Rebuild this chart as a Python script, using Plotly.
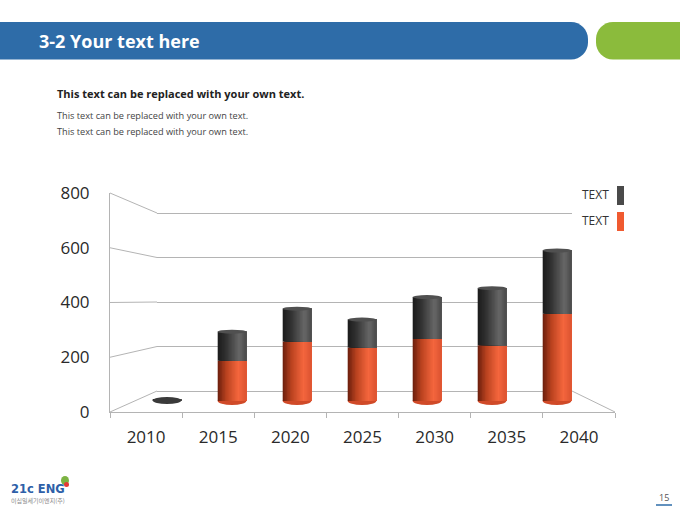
import plotly.graph_objects as go

# chart data
years = ["2010", "2015", "2020", "2025", "2030", "2035", "2040"]
series_names = ["TEXT", "TEXT"]          # dark (top) series, red (bottom) series
red_vals = [0, 163, 240, 216, 251, 225, 353]
dark_vals = [4, 117, 133, 113, 169, 231, 255]
y_ticks = [0, 200, 400, 600, 800]

W, H = 680, 510
FONT = "Open Sans"


def px(x):
    return x / W


def py(y):
    return 1 - y / H


def ydomain(ypx0, ypx800, lo, hi):
    # pixel rows of value 0 and 800 -> domain for a [lo, hi] axis range
    s = (ypx0 - ypx800) / 800.0
    return [py(ypx0 + (0 - lo) * s), py(ypx800 - (hi - 800) * s)]


def hex2rgb(h):
    h = h.lstrip("#")
    return [int(h[i:i + 2], 16) for i in (0, 2, 4)]


def shade(stops, t):
    for (t0, c0), (t1, c1) in zip(stops, stops[1:]):
        if t0 <= t <= t1:
            f = (t - t0) / (t1 - t0)
            a, b = hex2rgb(c0), hex2rgb(c1)
            return "rgb(%d,%d,%d)" % tuple(round(a[i] + (b[i] - a[i]) * f) for i in range(3))
    return stops[-1][1]


# pseudo-3d planes (pixels): front axis, back wall, plane of the cylinders
FRONT_X = (110, 615)
FRONT_Y = (412, 193)
BACK_X = (157, 572)
BACK_Y = (391, 213)
BARS_X = (134.5, 589.5)
BARS_Y = (401, 203)

RED_STOPS = [(0, "#6a1e0d"), (0.3, "#b9421f"), (0.72, "#f4663d"), (1, "#dd5432")]
DARK_STOPS = [(0, "#1b1b1b"), (0.3, "#323232"), (0.75, "#676767"), (1, "#4b4b4b")]
GRID = "#b4b4b4"

xs = list(range(len(years)))
NS = 20
BW = 0.44

fig = go.Figure()

# empty traces so the front and back subplots are always built
fig.add_trace(go.Scatter(x=[None], y=[None], xaxis="x", yaxis="y", showlegend=False, hoverinfo="skip"))
fig.add_trace(go.Scatter(x=[None], y=[None], xaxis="x2", yaxis="y2", showlegend=False, hoverinfo="skip"))

# cylinders: strips drawn left to right, each reaching the right edge, so no seams show
for vals, base, stops in [(red_vals, [0] * len(xs), RED_STOPS),
                          (dark_vals, red_vals, DARK_STOPS)]:
    for i in range(NS):
        c = shade(stops, (i + 0.5) / NS)
        fig.add_trace(go.Bar(
            x=xs, y=vals, base=base,
            width=BW * (NS - i) / NS, offset=-BW / 2 + i * BW / NS,
            marker=dict(color=c, line=dict(width=0)),
            xaxis="x3", yaxis="y3", showlegend=False, hoverinfo="skip"))

shapes = []

# slanted connectors between front axis and back wall
for v in y_ticks:
    yf = FRONT_Y[0] - v * (FRONT_Y[0] - FRONT_Y[1]) / 800
    yb = BACK_Y[0] - v * (BACK_Y[0] - BACK_Y[1]) / 800
    shapes.append(dict(type="line", xref="paper", yref="paper",
                       x0=px(FRONT_X[0]), y0=py(yf), x1=px(BACK_X[0]), y1=py(yb),
                       line=dict(color=GRID, width=1), layer="below"))
# right edge of the floor
shapes.append(dict(type="line", xref="paper", yref="paper",
                   x0=px(BACK_X[1]), y0=py(BACK_Y[0]), x1=px(FRONT_X[1]), y1=py(FRONT_Y[0]),
                   line=dict(color=GRID, width=1), layer="below"))

# cylinder bottoms and tops
for k, (r, d) in enumerate(zip(red_vals, dark_vals)):
    if r > 0:
        shapes.append(dict(type="circle", xref="x3", yref="y3",
                           x0=k - BW / 2, x1=k + BW / 2,
                           ysizemode="pixel", yanchor=0, y0=-4, y1=4,
                           fillcolor="#d04a28", line=dict(width=0), layer="below"))
        shapes.append(dict(type="circle", xref="x3", yref="y3",
                           x0=k - BW / 2, x1=k + BW / 2,
                           ysizemode="pixel", yanchor=r + d, y0=-2, y1=2,
                           fillcolor="#505050", line=dict(width=0), layer="above"))
    else:
        shapes.append(dict(type="circle", xref="x3", yref="y3",
                           x0=k - BW / 2, x1=k + BW / 2,
                           ysizemode="pixel", yanchor=d, y0=-4, y1=3,
                           fillcolor="#3a3a3a", line=dict(width=0), layer="above"))


def pill(x0, x1, y0, y1, rl, rr):
    # rounded bar as a path in paper coords (bezier corners)
    k = 0.5523
    p = []
    p.append("M%f,%f" % (px(x0 + rl), py(y0)))
    p.append("L%f,%f" % (px(x1 - rr), py(y0)))
    if rr:
        p.append("C%f,%f %f,%f %f,%f" % (px(x1 - rr + rr * k), py(y0), px(x1), py(y0 + rr - rr * k),
                                          px(x1), py(y0 + rr)))
        p.append("L%f,%f" % (px(x1), py(y1 - rr)))
        p.append("C%f,%f %f,%f %f,%f" % (px(x1), py(y1 - rr + rr * k), px(x1 - rr + rr * k), py(y1),
                                          px(x1 - rr), py(y1)))
    else:
        p.append("L%f,%f L%f,%f" % (px(x1), py(y0), px(x1), py(y1)))
    p.append("L%f,%f" % (px(x0 + rl), py(y1)))
    if rl:
        p.append("C%f,%f %f,%f %f,%f" % (px(x0 + rl - rl * k), py(y1), px(x0), py(y1 - rl + rl * k),
                                          px(x0), py(y1 - rl)))
        p.append("L%f,%f" % (px(x0), py(y0 + rl)))
        p.append("C%f,%f %f,%f %f,%f" % (px(x0), py(y0 + rl - rl * k), px(x0 + rl - rl * k), py(y0),
                                          px(x0 + rl), py(y0)))
    else:
        p.append("L%f,%f" % (px(x0), py(y0)))
    p.append("Z")
    return " ".join(p)


# header bars
shapes.append(dict(type="path", xref="paper", yref="paper", path=pill(-5, 588, 22, 59.5, 0, 17),
                   fillcolor="#2e6ca8", line=dict(width=0)))
shapes.append(dict(type="path", xref="paper", yref="paper", path=pill(596, 700, 22, 59.5, 17, 0),
                   fillcolor="#8bbb3c", line=dict(width=0)))

# legend swatches
shapes.append(dict(type="rect", xref="paper", yref="paper", x0=px(617), x1=px(624), y0=py(205), y1=py(186),
                   fillcolor="#4a4a4a", line=dict(width=0)))
shapes.append(dict(type="rect", xref="paper", yref="paper", x0=px(617), x1=px(624), y0=py(231), y1=py(212),
                   fillcolor="#f05a30", line=dict(width=0)))
# page number underline
shapes.append(dict(type="line", xref="paper", yref="paper", x0=px(656), x1=px(672), y0=py(505), y1=py(505),
                   line=dict(color="#2e6ca8", width=1.5)))
# logo leaf
shapes.append(dict(type="circle", xref="paper", yref="paper", x0=px(61), x1=px(69), y0=py(485), y1=py(476),
                   fillcolor="#7cb342", line=dict(width=0)))
shapes.append(dict(type="circle", xref="paper", yref="paper", x0=px(64), x1=px(69), y0=py(487), y1=py(482),
                   fillcolor="#e53935", line=dict(width=0)))

annotations = [
    dict(text="<b>3-2 Your text here</b>", x=px(37), y=py(41), xanchor="left", yanchor="middle",
         font=dict(family=FONT, size=18, color="white")),
    dict(text="<b>This text can be replaced with your own text.</b>", x=px(55), y=py(93),
         xanchor="left", yanchor="middle", font=dict(family=FONT, size=11, color="#222222")),
    dict(text="This text can be replaced with your own text.", x=px(55), y=py(116),
         xanchor="left", yanchor="middle", font=dict(family=FONT, size=9.2, color="#444444")),
    dict(text="This text can be replaced with your own text.", x=px(55), y=py(131),
         xanchor="left", yanchor="middle", font=dict(family=FONT, size=9.2, color="#444444")),
    dict(text=series_names[0], x=px(595), y=py(194), xanchor="center", yanchor="middle",
         font=dict(family=FONT, size=12, color="#333333")),
    dict(text=series_names[1], x=px(595), y=py(220), xanchor="center", yanchor="middle",
         font=dict(family=FONT, size=12, color="#333333")),
    dict(text="<b>21c ENG</b>", x=px(9), y=py(489), xanchor="left", yanchor="middle",
         font=dict(family="DejaVu Sans", size=11.5, color="#2e5fa8")),
    dict(text="이십일세기이엔지(주)", x=px(9), y=py(500), xanchor="left", yanchor="middle",
         font=dict(family="Noto Sans CJK KR", size=6, color="#888888")),
    dict(text="15", x=px(664), y=py(497), xanchor="center", yanchor="middle",
         font=dict(family=FONT, size=9, color="#555555")),
]
for a in annotations:
    a.update(xref="paper", yref="paper", showarrow=False)

tick_font = dict(family=FONT, size=17, color="#2a2a2a")

fig.update_layout(
    template="none",
    width=W, height=H, autosize=False,
    margin=dict(l=0, r=0, t=0, b=0, pad=0, autoexpand=False),
    paper_bgcolor="white", plot_bgcolor="rgba(0,0,0,0)",
    barmode="overlay", showlegend=False,
    shapes=shapes, annotations=annotations,
    # front axes: labels, floor edge, left edge
    xaxis=dict(domain=[px(FRONT_X[0]), px(FRONT_X[1])], range=[-0.5, len(years) - 0.5],
               tickmode="array", tickvals=xs, ticktext=years, ticks="",
               tickfont=tick_font, ticklabelstandoff=10, automargin=False,
               minor=dict(tick0=-0.5, dtick=1, ticks="outside", ticklen=5,
                          tickcolor=GRID, showgrid=False),
               showline=True, linecolor=GRID, linewidth=1, showgrid=False, zeroline=False,
               anchor="y", fixedrange=True),
    yaxis=dict(domain=[py(FRONT_Y[0]), py(FRONT_Y[1])], range=[0, 800],
               tickmode="array", tickvals=y_ticks, ticks="", tickfont=tick_font,
               ticklabelstandoff=16, showline=True, linecolor=GRID, linewidth=1, automargin=False,
               showgrid=False, zeroline=False, anchor="x", fixedrange=True),
    # back wall: gridlines
    xaxis2=dict(domain=[px(BACK_X[0]), px(BACK_X[1])], range=[0, 1], visible=False,
                anchor="y2", automargin=False),
    yaxis2=dict(domain=ydomain(BACK_Y[0], BACK_Y[1], -20, 820), range=[-20, 820],
                tickmode="array", tickvals=y_ticks, showticklabels=False, ticks="",
                showgrid=True, gridcolor=GRID, gridwidth=1, zeroline=False, showline=False,
                anchor="x2", automargin=False),
    # plane of the cylinders
    xaxis3=dict(domain=[px(BARS_X[0]), px(BARS_X[1])], range=[-0.5, len(years) - 0.5],
                visible=False, anchor="y3", automargin=False),
    yaxis3=dict(domain=ydomain(BARS_Y[0], BARS_Y[1], -40, 840), range=[-40, 840],
                visible=False, anchor="x3", automargin=False),
)

# page body has an 8px default margin; drop it so the figure sits at the window corner
fig.write_html("out.html", config={"displayModeBar": False},
               post_script="document.body.style.margin='0px';")
